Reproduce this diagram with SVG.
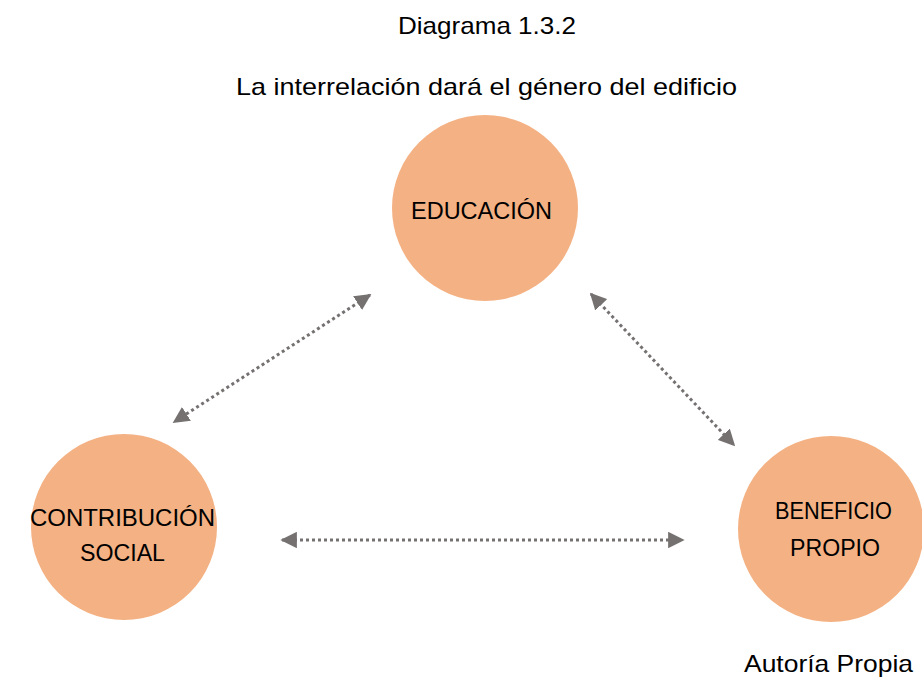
<svg xmlns="http://www.w3.org/2000/svg" width="922" height="680" viewBox="0 0 922 680">
<style>
.t{font-family:"Liberation Sans",Arial,sans-serif;font-size:24px;fill:#000;text-anchor:start}
.n{fill:#F4B183}
.c{stroke:#767171;stroke-width:3;stroke-dasharray:3 3;fill:none}
</style>
<defs>
<marker id="a" viewBox="0 0 10 10" refX="9" refY="5" markerWidth="5.5" markerHeight="5.5" orient="auto-start-reverse" markerUnits="strokeWidth">
<path d="M0,0L10,5L0,10z" fill="#767171"/>
</marker>
</defs>
<rect width="922" height="680" fill="#fff"/>
<text class="t" x="398" y="34" textLength="178" lengthAdjust="spacingAndGlyphs">Diagrama 1.3.2</text>
<text class="t" x="236" y="95" textLength="501" lengthAdjust="spacingAndGlyphs">La interrelación dará el género del edificio</text>
<g id="educacion"><circle class="n" cx="485" cy="208" r="93"/><text class="t" x="411" y="219" textLength="141" lengthAdjust="spacingAndGlyphs">EDUCACIÓN</text></g>
<g id="contribucion"><circle class="n" cx="124" cy="527" r="93"/><text class="t" x="30" y="526" textLength="185" lengthAdjust="spacingAndGlyphs">CONTRIBUCIÓN</text><text class="t" x="80" y="561" textLength="85" lengthAdjust="spacingAndGlyphs">SOCIAL</text></g>
<g id="beneficio"><circle class="n" cx="831" cy="529" r="93"/><text class="t" x="775" y="519" textLength="117" lengthAdjust="spacingAndGlyphs">BENEFICIO</text><text class="t" x="790" y="556" textLength="90" lengthAdjust="spacingAndGlyphs">PROPIO</text></g>
<g id="connectors">
<line class="c" x1="370" y1="295" x2="174" y2="422" marker-start="url(#a)" marker-end="url(#a)"/>
<line class="c" x1="591" y1="294" x2="734" y2="445" marker-start="url(#a)" marker-end="url(#a)"/>
<line class="c" x1="282" y1="540" x2="683" y2="540" marker-start="url(#a)" marker-end="url(#a)"/>
</g>
<text class="t" x="744" y="672" textLength="169" lengthAdjust="spacingAndGlyphs">Autoría Propia</text>
</svg>
